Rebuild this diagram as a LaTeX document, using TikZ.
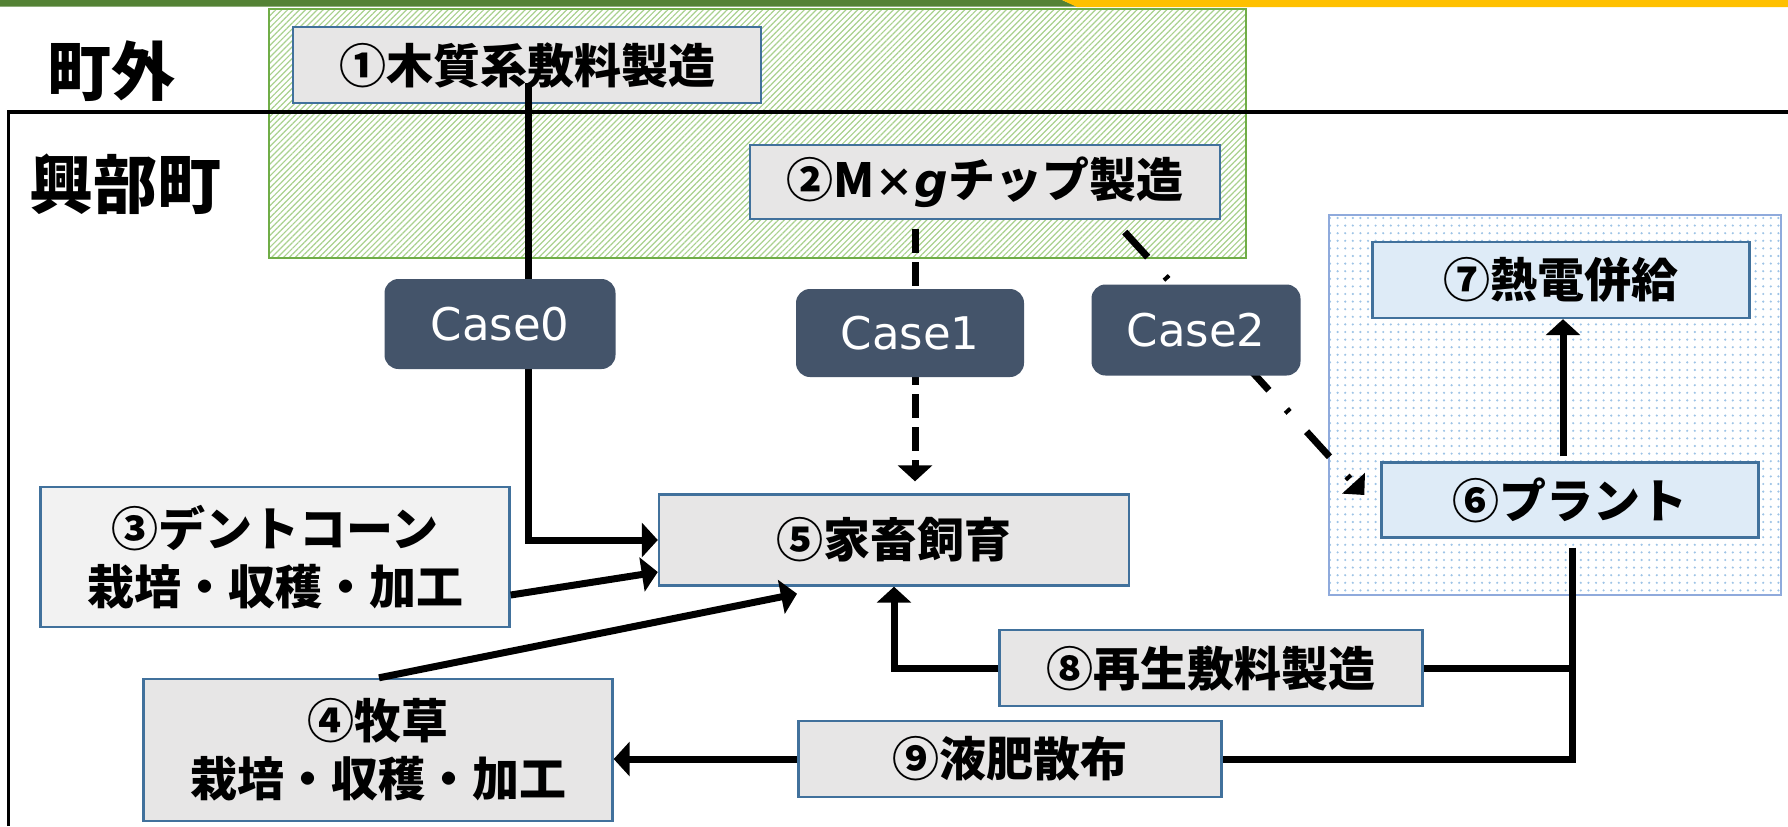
\documentclass[tikz,border=0pt]{standalone}
\usepackage{fontspec}
\setmainfont{Noto Sans CJK JP}
\newfontfamily\casefont{DejaVu Sans}
\newfontfamily\gfont{DejaVu Sans}
\usetikzlibrary{arrows.meta,patterns.meta,calc}
\definecolor{boxgray}{HTML}{E7E6E6}
\definecolor{boxlight}{HTML}{F2F2F2}
\definecolor{boxblue}{HTML}{DEEBF7}
\definecolor{boxborder}{HTML}{41719C}
\definecolor{casefill}{HTML}{44546A}
\definecolor{regiongreen}{HTML}{70AD47}
\definecolor{hatchgreen}{HTML}{A9D18E}
\definecolor{regionblue}{HTML}{8FAADC}
\definecolor{dotblue}{HTML}{9DC3E6}
\definecolor{bargreen}{HTML}{548235}
\definecolor{baryellow}{HTML}{FFC000}
\begin{document}
\begin{tikzpicture}[x=0.5pt,y=-0.5pt,
  proc/.style={draw=boxborder, line width=1.2pt, fill=boxgray, inner sep=0pt,
    align=center, font=\fontsize{23.5}{29}\selectfont\bfseries},
  casebox/.style={fill=casefill, rounded corners=7pt, inner sep=0pt,
    text=white, font=\casefont\fontsize{22.5}{26}\selectfont},
  title/.style={font=\fontsize{32}{36}\selectfont\bfseries},
  conn/.style={line width=3.5pt, -{Triangle[length=8pt,width=17pt]}},
  wire/.style={line width=3.5pt},
  greenregion/.style={draw=regiongreen, line width=1pt,
    pattern={Lines[angle=45,distance=2.1pt,line width=0.6pt]}, pattern color=hatchgreen},
  blueregion/.style={draw=regionblue, line width=1.2pt,
    pattern={Dots[distance=3.8pt,radius=0.6pt]}, pattern color=dotblue}
]
\useasboundingbox (0,0) rectangle (1788,826);
\fill[white] (0,0) rectangle (1788,826);

% top bar
\fill[bargreen] (0,0) -- (1062,0) -- (1077,6.5) -- (0,6.5) -- cycle;
\fill[baryellow] (1062,0) -- (1788,0) -- (1788,7) -- (1077,7) -- cycle;

% regions
\path[greenregion] (269,9) rectangle (1246,258);
\path[blueregion] (1329,215) rectangle (1781,595);

% frame
\draw[line width=1.6pt] (8.5,826) -- (8.5,112) -- (1788,112);

% titles
\node[title] (t1) at (111,71) {町外};
\node[title] (t2) at (125,184) {興部町};

% boxes
\node[proc, minimum width=234pt, minimum height=38pt] (n1) at (527,65) {①木質系敷料製造};
\node[proc, minimum width=235pt, minimum height=37pt] (n2) at (985,182) {②M{\fontsize{20}{24}\selectfont ×}{\gfont\bfseries\itshape g}チップ製造};
\node[proc, fill=boxlight, minimum width=234.5pt, minimum height=70pt] (n3) at (275,557) {③デントコーン\\栽培・収穫・加工};
\node[proc, minimum width=234.5pt, minimum height=71pt] (n4) at (378,750) {④牧草\\栽培・収穫・加工};
\node[proc, minimum width=235pt, minimum height=45.5pt] (n5) at (894,540) {⑤家畜飼育};
\node[proc, fill=boxblue, minimum width=188.5pt, minimum height=37.5pt] (n6) at (1570,500) {⑥プラント};
\node[proc, fill=boxblue, minimum width=188.5pt, minimum height=38pt] (n7) at (1561,280) {⑦熱電併給};
\node[proc, minimum width=211.5pt, minimum height=38pt] (n8) at (1211,668) {⑧再生敷料製造};
\node[proc, minimum width=211.5pt, minimum height=38pt] (n9) at (1010,759) {⑨液肥散布};

% connectors
\draw[conn] ($(n1.south)+(1,-21)$) |- (n5.west);
\draw[conn, dash pattern=on 12pt off 4.5pt, dash phase=12pt]
  ($(n2.south)+(-70,0)$) -- ($(n2.south |- n5.north)+(-70,-12)$);
\draw[line width=3.5pt, -{Triangle[length=8pt,width=15pt]},
  dash pattern=on 17pt off 13pt on 2pt off 13pt, dash phase=37pt]
  ($(n2.south)+(129,0)$) -- ($(n6.west)+(-16,-5)$);
\draw[conn] ($(n3.east)+(0,38)$) -- ($(n5.west)+(0,32)$);
\draw[conn] ($(n4.north)+(1,0)$) -- ($(n5.south)+(-97,7)$);
\draw[conn] (n8.west) -| (n5.south);
\draw[conn] ($(n6.north -| n7.south)+(2,-5)$) -- ($(n7.south)+(2,0)$);
\coordinate (j6) at ($(n6.south)+(2,9)$);
\draw[wire] (j6) |- (n9.east);
\draw[wire] (n8.east) -- (n8.east -| j6);
\draw[conn] (n9.west) -- (n9.west -| n4.east);

% case labels
\node[casebox, minimum width=115.5pt, minimum height=45pt] (c0) at (500,324) {Case0};
\node[casebox, minimum width=114pt, minimum height=44pt] (c1) at (910,333) {Case1};
\node[casebox, minimum width=104.5pt, minimum height=45.5pt] (c2) at (1196,330) {Case2};
\end{tikzpicture}
\end{document}
